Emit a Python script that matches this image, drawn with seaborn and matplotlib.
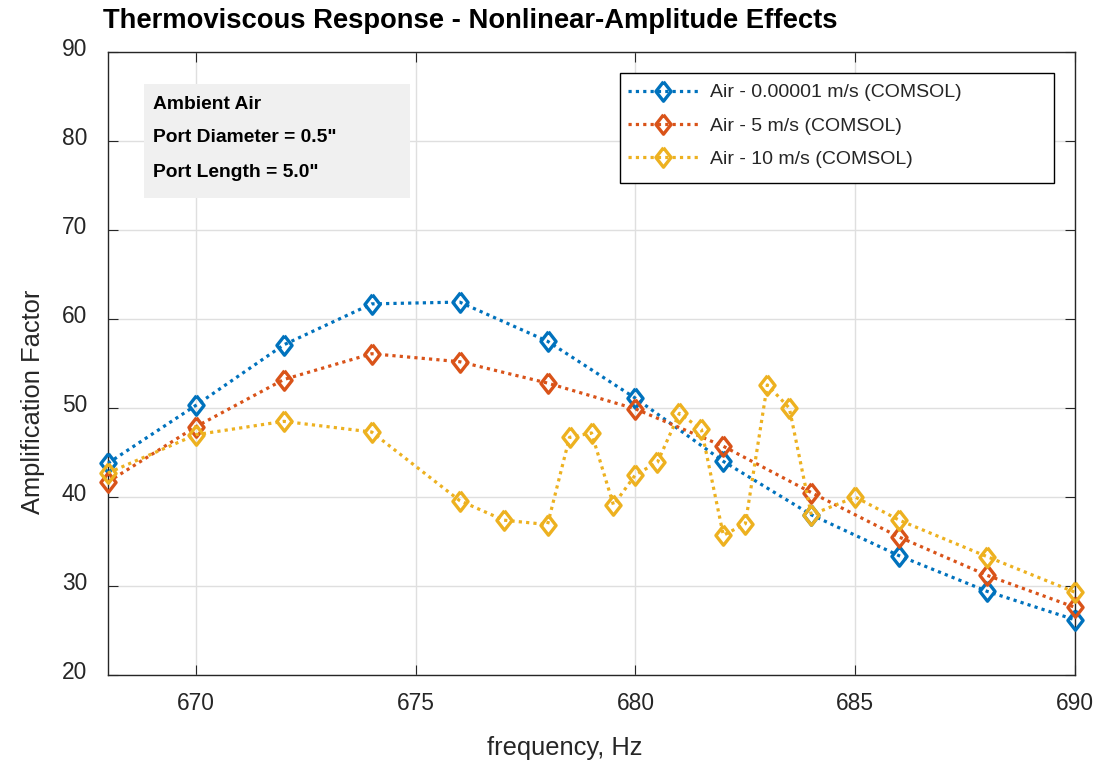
import numpy as np
import pandas as pd
import matplotlib
matplotlib.use("Agg")
import matplotlib.pyplot as plt
import matplotlib.transforms as mtransforms
from matplotlib.patches import Rectangle
import seaborn as sns

# values
freq_main = [668, 670, 672, 674, 676, 678, 680, 682, 684, 686, 688, 690]
amp_still = [43.8, 50.3, 57.1, 61.7, 61.9, 57.5, 51.1, 44.0, 38.0, 33.4, 29.4, 26.2]
amp_5ms = [41.7, 47.9, 53.2, 56.1, 55.2, 52.8, 49.9, 45.7, 40.5, 35.5, 31.2, 27.6]
freq_10ms = [668, 670, 672, 674, 676, 677, 678, 678.5, 679, 679.5, 680, 680.5,
             681, 681.5, 682, 682.5, 683, 683.5, 684, 685, 686, 688, 690]
amp_10ms = [42.7, 47.0, 48.5, 47.3, 39.6, 37.4, 36.9, 46.7, 47.2, 39.1, 42.5, 43.9,
            49.4, 47.6, 35.7, 37.0, 52.6, 50.0, 38.0, 40.0, 37.4, 33.3, 29.3]

labels = ["Air - 0.00001 m/s (COMSOL)", "Air - 5 m/s (COMSOL)", "Air - 10 m/s (COMSOL)"]
colors = ["#0072BD", "#D95319", "#EDB120"]
x_ticks = [670, 675, 680, 685, 690]
y_ticks = [20, 30, 40, 50, 60, 70, 80, 90]
info_lines = ["Ambient Air", 'Port Diameter = 0.5"', 'Port Length = 5.0"']

df = pd.concat([
    pd.DataFrame({"freq": freq_main, "amp": amp_still, "series": labels[0]}),
    pd.DataFrame({"freq": freq_main, "amp": amp_5ms, "series": labels[1]}),
    pd.DataFrame({"freq": freq_10ms, "amp": amp_10ms, "series": labels[2]}),
], ignore_index=True)

sns.set_theme(style="whitegrid")
plt.rcParams["font.family"] = ["Liberation Sans", "DejaVu Sans"]
dark = "#262626"

fig = plt.figure(figsize=(11.09, 7.65), dpi=100)
ax = fig.add_axes([108 / 1109, 1 - 675 / 765, 967 / 1109, 623 / 765])

diamond = [(0, 1), (0.78, 0), (0, -1), (-0.78, 0), (0, 1)]
sns.lineplot(data=df, x="freq", y="amp", hue="series", hue_order=labels,
             palette=dict(zip(labels, colors)), errorbar=None, sort=False,
             legend=False, ax=ax)

for line, lab, col in zip(ax.get_lines(), labels, colors):
    line.set_linestyle((0, (1, 1.3)))
    line.set_dash_capstyle("butt")
    line.set_linewidth(2.3)
    line.set_marker(diamond)
    line.set_markersize(14)
    line.set_markerfacecolor("none")
    line.set_markeredgecolor(col)
    line.set_markeredgewidth(2.4)
    line.set_clip_on(False)
    line.set_label(lab)

ax.set_xlim(668, 690)
ax.set_ylim(20, 90)
ax.set_xticks(x_ticks)
ax.set_yticks(y_ticks)
ax.grid(True, color="#DFDFDF", linewidth=1.0)
for s in ax.spines.values():
    s.set_visible(True)
    s.set_color(dark)
    s.set_linewidth(1.0)
    s.set_zorder(1)
ax.set_facecolor("white")
ax.tick_params(axis="both", which="both", direction="in", length=7, width=0.8,
               color=dark, labelcolor=dark, labelsize=16.4, top=True, right=True,
               bottom=True, left=True)
ax.tick_params(axis="y", pad=15)
ax.tick_params(axis="x", pad=12)

# MATLAB-style y tick labels sit slightly above their ticks
shift = mtransforms.ScaledTranslation(0, 5 / 100, fig.dpi_scale_trans)
for t in ax.get_yticklabels():
    t.set_transform(t.get_transform() + shift)

ax.set_xlabel("frequency, Hz", fontsize=18.4, color=dark)
ax.set_ylabel("Amplification Factor", fontsize=18.4, color=dark)
ax.xaxis.set_label_coords((565 - 108) / 967, -(748 - 675) / 623)
ax.yaxis.set_label_coords(-(108 - 33) / 967, (675 - 402) / 623)
ax.xaxis.label.set_va("center")
ax.yaxis.label.set_va("center")

fig.text(103 / 1109, 1 - 21 / 765, "Thermoviscous Response - Nonlinear-Amplitude Effects",
         fontsize=19.7, fontweight="bold", color="black", ha="left", va="center")

# legend frame drawn as a fixed box, entries placed inside it
ax.add_patch(Rectangle((0.529, (675 - 183) / 623), 0.449, 110 / 623, transform=ax.transAxes,
                       facecolor="white", edgecolor="black", linewidth=1.0, zorder=4.9))
leg = ax.legend(loc="upper left", bbox_to_anchor=(0.529, 0.5, 0.449, (675 - 75) / 623 - 0.5),
                mode="expand", borderaxespad=0, fontsize=14, frameon=False,
                handlelength=3.6, handletextpad=0.6, labelspacing=0.8, borderpad=0.45)
leg.set_zorder(5)
for txt in leg.get_texts():
    txt.set_color(dark)

ax.add_patch(Rectangle((0.0372, 0.7657), 0.2748, 0.1829, transform=ax.transAxes,
                       facecolor="#F0F0F0", edgecolor="none", zorder=5))
for y, s in zip([0.9165, 0.8620, 0.8058], info_lines):
    ax.text(0.0465, y, s, transform=ax.transAxes, fontsize=13.9, fontweight="bold",
            color="black", ha="left", va="center", zorder=6)

fig.savefig("out.png", dpi=100)
